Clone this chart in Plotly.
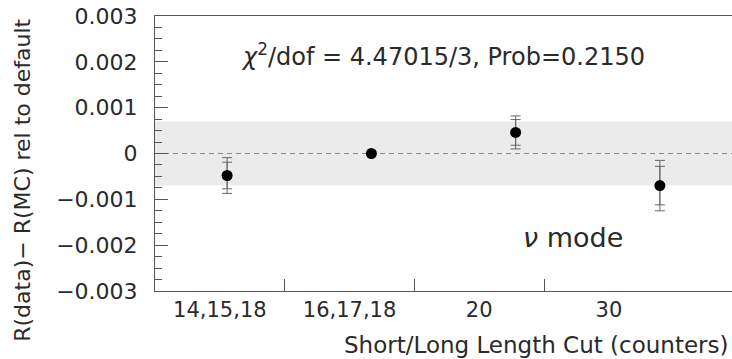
import plotly.graph_objects as go

# ---- data ----
categories = ["14,15,18", "16,17,18", "20", "30"]
values = [-0.00048, 0.0, 0.00046, -0.00070]
err_stat = [0.00029, 0.0, 0.00028, 0.00042]
err_total = [0.00039, 0.0, 0.00036, 0.00055]
band_half_width = 0.0007
y_tickvals = [0.003, 0.002, 0.001, 0.0, -0.001, -0.002, -0.003]
y_ticktext = ["0.003", "0.002", "0.001", "0", "\u22120.001", "\u22120.002", "\u22120.003"]
chi2_text = "<i>\u03c7</i><sup>2</sup>/dof = 4.47015/3, Prob=0.2150"
mode_text = "<i>\u03bd</i> mode"
x_title = "Short/Long Length Cut (counters)"
y_title = "R(data)\u2212 R(MC) rel to default"

FONT = "DejaVu Sans"
TXT = "#2a2a2a"
AX = "#555555"

idx = list(range(len(categories)))

fig = go.Figure()

# invisible trace so that the label axis (x) is drawn
fig.add_trace(go.Scatter(
    x=idx, y=[None] * len(idx), mode="markers", xaxis="x", yaxis="y",
    marker=dict(size=1, color="rgba(0,0,0,0)"),
    showlegend=False, hoverinfo="skip"))

# outer (total) error bars
fig.add_trace(go.Scatter(
    x=idx, y=values, mode="markers", xaxis="x2", yaxis="y",
    marker=dict(size=1, color="rgba(0,0,0,0)"),
    error_y=dict(type="data", array=err_total, visible=True,
                 color="#666666", thickness=1, width=5),
    showlegend=False, hoverinfo="skip"))
# inner (stat) error bars + points
fig.add_trace(go.Scatter(
    x=idx, y=values, mode="markers", xaxis="x2", yaxis="y",
    marker=dict(size=11, color="black"),
    error_y=dict(type="data", array=err_stat, visible=True,
                 color="#666666", thickness=1, width=5),
    showlegend=False))

fig.update_layout(
    width=732, height=359,
    margin=dict(l=155, r=0, t=16, b=68),
    paper_bgcolor="white", plot_bgcolor="white",
    font=dict(family=FONT, size=20, color=TXT),
    xaxis=dict(
        range=[-0.5, 3.949],
        tickmode="array", tickvals=idx, ticktext=categories,
        ticks="", showgrid=False, zeroline=False,
        showline=True, linecolor=AX, linewidth=1, mirror=True,
        tickfont=dict(family=FONT, size=21, color=TXT),
        minor=dict(tickmode="array", tickvals=[0.5, 1.5, 2.5],
                   ticks="inside", ticklen=12, tickcolor=AX, tickwidth=1,
                   showgrid=False),
    ),
    xaxis2=dict(range=[-0.5, 3.5], overlaying="x", anchor="y",
                visible=False, showgrid=False, zeroline=False),
    yaxis=dict(
        range=[-0.003, 0.003],
        tickmode="array", tickvals=y_tickvals, ticktext=y_ticktext,
        ticks="inside", ticklen=13, tickcolor=AX, tickwidth=1,
        showgrid=False, zeroline=False,
        showline=True, linecolor=AX, linewidth=1,
        ticklabelstandoff=12,
        tickfont=dict(family=FONT, size=22, color=TXT),
        minor=dict(dtick=0.00025, tick0=0, ticks="inside", ticklen=7,
                   tickcolor=AX, tickwidth=1, showgrid=False),
    ),
    shapes=[
        dict(type="rect", xref="paper", yref="y", x0=0, x1=1,
             y0=-band_half_width, y1=band_half_width,
             fillcolor="#ebebeb", line=dict(width=0), layer="below"),
        dict(type="line", xref="paper", yref="y", x0=0, x1=1, y0=0, y1=0,
             line=dict(color="#888888", width=1, dash="5px,4px"), layer="below"),
    ],
    annotations=[
        dict(text=chi2_text, xref="x2", yref="y", x=1.494, y=0.00215,
             showarrow=False, xanchor="center", yanchor="middle",
             font=dict(family=FONT, size=24, color=TXT)),
        dict(text=mode_text, xref="x2", yref="y", x=2.395, y=-0.00183,
             showarrow=False, xanchor="center", yanchor="middle",
             font=dict(family=FONT, size=27, color=TXT)),
        dict(text=x_title, xref="paper", yref="paper", x=0.9965, y=-0.196,
             showarrow=False, xanchor="right", yanchor="middle",
             font=dict(family=FONT, size=23, color=TXT)),
        dict(text=y_title, xref="paper", yref="paper", x=-0.229, y=0.404,
             showarrow=False, xanchor="center", yanchor="middle",
             textangle=-90,
             font=dict(family=FONT, size=22, color=TXT)),
    ],
)

fig.write_html("out.html")
